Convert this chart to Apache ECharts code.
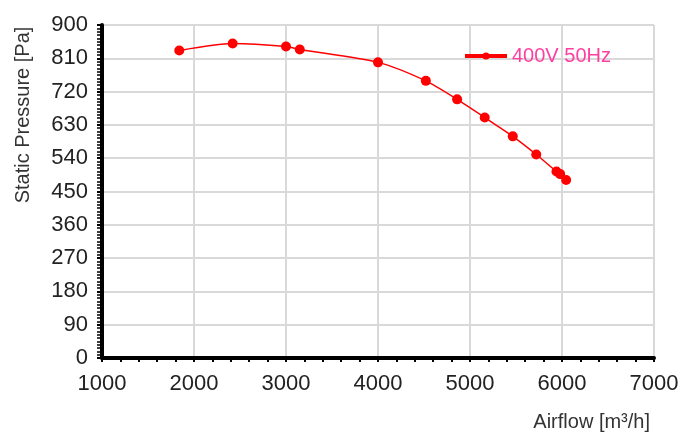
<!DOCTYPE html>
<html>
<head>
<meta charset="utf-8">
<script src="https://cdn.jsdelivr.net/npm/echarts@6/dist/echarts.min.js"></script>
<style>
  html, body { margin: 0; padding: 0; background: #fff; }
  #chart { width: 700px; height: 448px; }
</style>
</head>
<body>
<div id="chart"></div>
<script>
// airflow [m3/h] and static pressure [Pa]
var airflow = [1840, 2420, 3000, 3150, 4000, 4520, 4860, 5160, 5465, 5720, 5940, 5980, 6045];
var pressure = [831, 850, 842, 834, 799, 749, 699, 650, 599, 550, 504, 497, 481];
var seriesName = "400V 50Hz";

var points = [];
for (let i = 0; i < airflow.length; i++) {
  points.push([airflow[i], pressure[i]]);
}

var dom = document.getElementById("chart");
var myChart = echarts.init(dom, null, { renderer: "canvas" });

var option = {
  animation: false,
  grid: { left: 102, right: 46, top: 25, bottom: 90 },
  legend: {
    data: [seriesName],
    left: 458,
    top: 41,
    itemWidth: 42,
    itemHeight: 9,
    itemGap: 8,
    lineStyle: { width: 4 },
    textStyle: { color: "#ff3fa0", fontSize: 20, fontFamily: "Liberation Sans" }
  },
  xAxis: {
    type: "value",
    min: 1000,
    max: 7000,
    interval: 1000,
    axisLine: { onZero: false, lineStyle: { color: "#000", width: 4 } },
    axisTick: { length: 4, lineStyle: { color: "#000", width: 2 } },
    minorTick: { show: true, splitNumber: 5, length: 4, lineStyle: { color: "#000", width: 2 } },
    axisLabel: {
      color: "#222",
      fontSize: 22,
      fontFamily: "Liberation Sans",
      margin: 15,
      formatter: function (v) { return String(v); }
    },
    splitLine: { show: true, lineStyle: { color: "#d9d9d9", width: 2 } }
  },
  yAxis: {
    type: "value",
    min: 0,
    max: 900,
    interval: 90,
    axisLine: { show: true, lineStyle: { color: "#000", width: 4 } },
    axisTick: { show: true, length: 5, lineStyle: { color: "#000", width: 2 } },
    minorTick: { show: true, splitNumber: 10, length: 5, lineStyle: { color: "#000", width: 1.5 } },
    axisLabel: { color: "#222", fontSize: 22, fontFamily: "Liberation Sans", margin: 14 },
    splitLine: { show: true, lineStyle: { color: "#d9d9d9", width: 2 } }
  },
  graphic: [
    {
      type: "text",
      x: 23,
      y: 115,
      rotation: Math.PI / 2,
      style: {
        text: "Static Pressure [Pa]",
        fill: "#333",
        font: "20px Liberation Sans",
        align: "center",
        verticalAlign: "middle"
      }
    },
    {
      type: "text",
      right: 50,
      top: 412,
      style: {
        text: "Airflow [m³/h]",
        fill: "#333",
        font: "20px Liberation Sans"
      }
    }
  ],
  series: [
    {
      name: seriesName,
      type: "line",
      data: points,
      smooth: 0.25,
      symbol: "circle",
      symbolSize: 10,
      itemStyle: { color: "#ff0000" },
      lineStyle: { color: "#ff0000", width: 1.5 }
    }
  ]
};

myChart.setOption(option);
window.addEventListener("resize", myChart.resize);
</script>
</body>
</html>
